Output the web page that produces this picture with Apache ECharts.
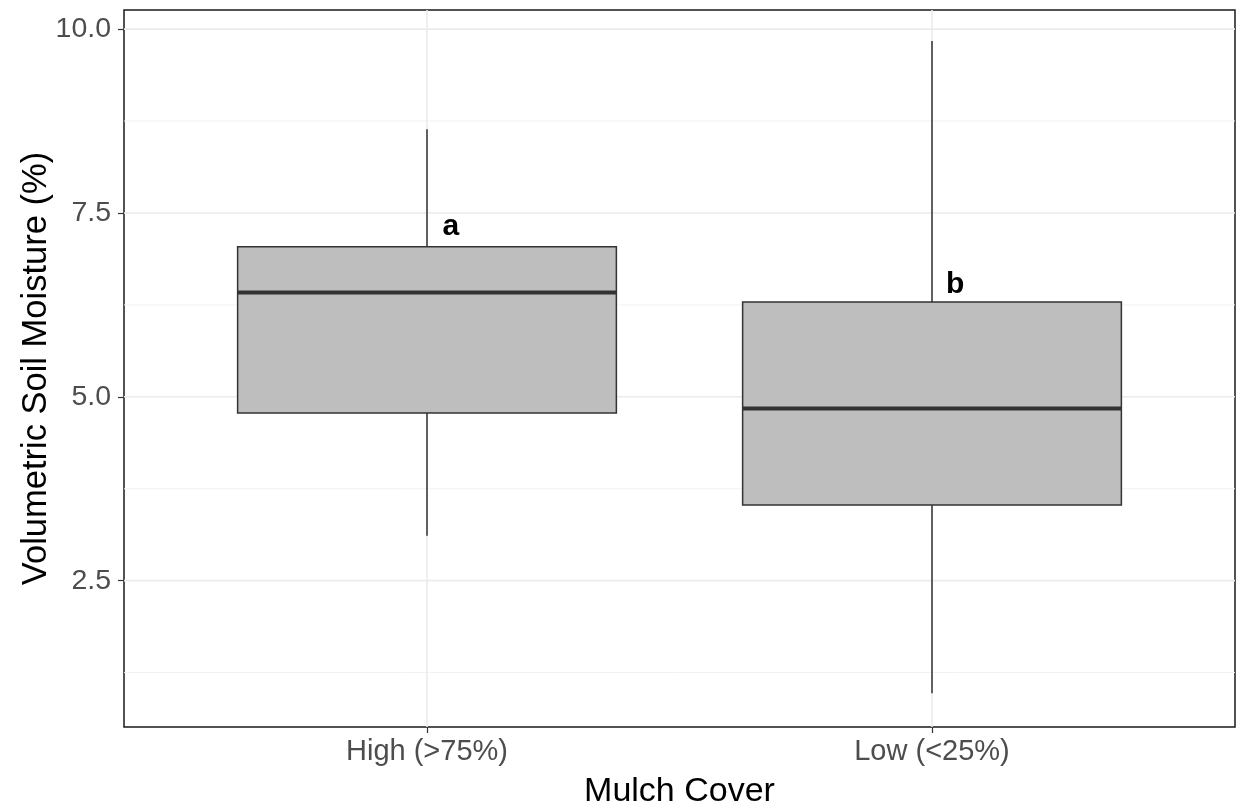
<!DOCTYPE html>
<html>
<head>
<meta charset="utf-8">
<script src="https://cdn.jsdelivr.net/npm/echarts@6/dist/echarts.min.js"></script>
<style>
html,body{margin:0;padding:0;background:#fff;}
#chart{width:1238px;height:805px;}
</style>
</head>
<body>
<div id="chart"></div>
<script>
// ---- data ----
var categories = ['High (>75%)', 'Low (<25%)'];
var whiskerLow  = [3.11, 0.97];
var q1          = [4.78, 3.53];
var median      = [6.42, 4.84];
var q3          = [7.04, 6.29];
var whiskerHigh = [8.64, 9.84];
var letters     = ['a', 'b'];
var letterX     = [1.047, 2.046];
var letterY     = [7.31, 6.52];
var yMajorTicks = [2.5, 5.0, 7.5, 10.0];
var yMinorTicks = [1.25, 3.75, 6.25, 8.75];
var xTicks      = [1, 2];

var FONT = 'Liberation Sans, Arial, sans-serif';

var boxData = categories.map(function (c, i) {
  return [i + 1, whiskerLow[i], q1[i], median[i], q3[i], whiskerHigh[i]];
});
var gridData = [];
yMajorTicks.forEach(function (v) { gridData.push([0, v, 1]); });
yMinorTicks.forEach(function (v) { gridData.push([0, v, 0]); });
xTicks.forEach(function (v) { gridData.push([1, v, 1]); });
var letterData = letters.map(function (l, i) { return [letterX[i], letterY[i], l]; });

var chart = echarts.init(document.getElementById('chart'), null, {renderer: 'canvas'});
chart.setOption({
  animation: false,
  backgroundColor: '#ffffff',
  grid: {
    left: 124, right: 3, top: 10, bottom: 78,
    outerBoundsMode: 'none', containLabel: false,
    show: true, borderColor: '#1a1a1a', borderWidth: 1.5, backgroundColor: 'transparent'
  },
  xAxis: {
    type: 'value', min: 0.4, max: 2.6,
    name: 'Mulch Cover', nameLocation: 'middle', nameGap: 48, nameMoveOverlap: false,
    nameTextStyle: {fontFamily: FONT, fontSize: 34, color: '#000'},
    axisLine: {show: false},
    splitLine: {show: false},
    axisTick: {show: true, customValues: xTicks, length: 6, lineStyle: {color: '#333', width: 1.2}},
    axisLabel: {
      customValues: xTicks, margin: 10,
      fontFamily: FONT, fontSize: 29, color: '#4d4d4d',
      formatter: function (v) { return categories[Math.round(v) - 1] || ''; }
    }
  },
  yAxis: {
    type: 'value', min: 0.51, max: 10.26,
    name: 'Volumetric Soil Moisture (%)', nameLocation: 'middle', nameGap: 70, nameRotate: 90,
    nameMoveOverlap: false,
    nameTextStyle: {fontFamily: FONT, fontSize: 34.5, color: '#000'},
    axisLine: {show: false},
    splitLine: {show: false},
    axisTick: {show: true, customValues: yMajorTicks, length: 6, lineStyle: {color: '#333', width: 1.2}},
    axisLabel: {
      customValues: yMajorTicks, margin: 13,
      fontFamily: FONT, fontSize: 28.5, color: '#4d4d4d',
      formatter: function (v) { return v.toFixed(1); }
    }
  },
  series: [
    {
      type: 'custom', name: 'grid', z: 1, silent: true,
      data: gridData,
      encode: {x: 1, y: 1},
      renderItem: function (params, api) {
        var cs = params.coordSys;
        var horiz = api.value(0) === 0;
        var v = api.value(1);
        var major = api.value(2) === 1;
        var shape;
        if (horiz) {
          var py = api.coord([1, v])[1];
          shape = {x1: cs.x, y1: py, x2: cs.x + cs.width, y2: py};
        } else {
          var px = api.coord([v, 5])[0];
          shape = {x1: px, y1: cs.y, x2: px, y2: cs.y + cs.height};
        }
        return {
          type: 'line', shape: shape,
          style: {stroke: major ? '#ebebeb' : '#f2f2f2', lineWidth: major ? 1.6 : 1}
        };
      }
    },
    {
      type: 'custom', name: 'box', z: 2,
      data: boxData,
      encode: {x: 0, y: [1, 2, 3, 4, 5]},
      renderItem: function (params, api) {
        var x = api.value(0);
        var half = api.size([0.375, 0])[0];
        var cx = api.coord([x, 0])[0];
        var yLo = api.coord([x, api.value(1)])[1];
        var yQ1 = api.coord([x, api.value(2)])[1];
        var yMed = api.coord([x, api.value(3)])[1];
        var yQ3 = api.coord([x, api.value(4)])[1];
        var yHi = api.coord([x, api.value(5)])[1];
        return {
          type: 'group',
          children: [
            {type: 'line', shape: {x1: cx, y1: yHi, x2: cx, y2: yQ3}, style: {stroke: '#000', lineWidth: 1.2}},
            {type: 'line', shape: {x1: cx, y1: yQ1, x2: cx, y2: yLo}, style: {stroke: '#000', lineWidth: 1.2}},
            {type: 'rect', shape: {x: cx - half, y: yQ3, width: 2 * half, height: yQ1 - yQ3},
              style: {fill: '#bebebe', stroke: '#333333', lineWidth: 1.5}},
            {type: 'line', shape: {x1: cx - half, y1: yMed, x2: cx + half, y2: yMed},
              style: {stroke: '#333333', lineWidth: 4}}
          ]
        };
      }
    },
    {
      type: 'custom', name: 'letters', z: 3, silent: true,
      data: letterData,
      encode: {x: 0, y: 1},
      renderItem: function (params, api) {
        var p = api.coord([api.value(0), api.value(1)]);
        return {
          type: 'text',
          style: {
            text: letters[params.dataIndex], x: p[0], y: p[1],
            font: 'bold 30px ' + FONT, fill: '#000',
            align: 'center', verticalAlign: 'middle'
          }
        };
      }
    }
  ]
});
</script>
</body>
</html>
